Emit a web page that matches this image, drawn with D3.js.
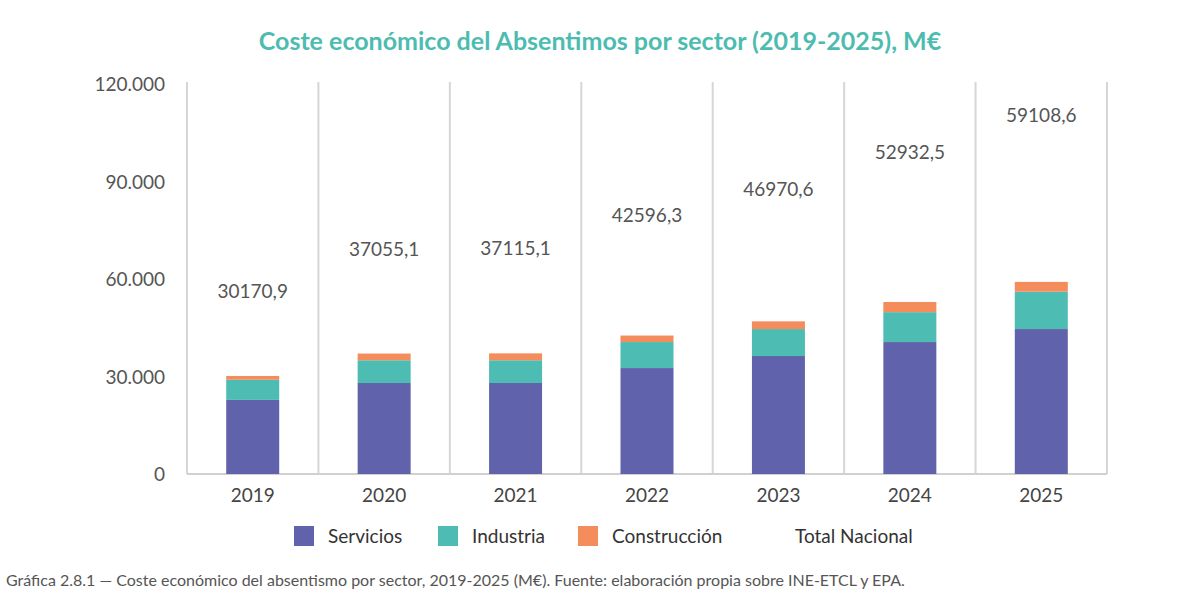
<!DOCTYPE html><html><head><meta charset="utf-8"><script src="https://cdn.jsdelivr.net/npm/d3@7"></script>
<style>body{margin:0;background:#fff;font-family:Lato,"Open Sans",sans-serif}</style></head><body><svg id="c" width="1200" height="610"></svg>
<script>
const years=["2019","2020","2021","2022","2023","2024","2025"];
const servicios=[22.8,28.0,28.0,32.6,36.3,40.6,44.6].map(v=>v*1000);
const industria=[6.2,7.0,7.0,8.0,8.3,9.2,11.5].map(v=>v*1000);
const construccion=[1.17,2.06,2.12,2.0,2.37,3.13,3.01].map(v=>v*1000);
const totales=[30170.9,37055.1,37115.1,42596.3,46970.6,52932.5,59108.6];
const yTicks=[0,30000,60000,90000,120000];
const series=[["Servicios",servicios,"#6063ab"],["Industria",industria,"#4dbcb2"],["Construcción",construccion,"#f48c5c"]];
const svg=d3.select("#c");
const x=d3.scaleBand().domain(years).range([187,1107]).paddingInner(0).paddingOuter(0);
const y=d3.scaleLinear().domain([0,120000]).range([474,84]);
const fmt=v=>v===0?"0":d3.format(",")(v).replace(/,/g,".");
svg.append("text").attr("x",600).attr("y",50).attr("text-anchor","middle").attr("fill","#4dbcb0").attr("font-size",25).attr("font-weight",700).text("Coste económico del Absentimos por sector (2019-2025), M€");
// gridlines vertical
svg.selectAll(".vg").data(years.concat(["end"])).enter().append("line").attr("x1",(d,i)=>187+i*x.bandwidth()).attr("x2",(d,i)=>187+i*x.bandwidth()).attr("y1",82).attr("y2",474).attr("stroke","#d6d6d6").attr("stroke-width",2);
svg.append("line").attr("x1",187).attr("x2",1107).attr("y1",y(0)).attr("y2",y(0)).attr("stroke","#d0d0d0").attr("stroke-width",2);
svg.selectAll(".yt").data(yTicks).enter().append("text").attr("x",165).attr("y",d=>y(d)+7).attr("text-anchor","end").attr("font-size",19).attr("fill","#555").text(fmt);
const bw=53;
years.forEach((yr,i)=>{let acc=0;series.forEach(s=>{const v=s[1][i];svg.append("rect").attr("x",x(yr)+x.bandwidth()/2-bw/2).attr("width",bw).attr("y",y(acc+v)).attr("height",y(acc)-y(acc+v)).attr("fill",s[2]);acc+=v;});});
svg.selectAll(".xl").data(years).enter().append("text").attr("x",d=>x(d)+x.bandwidth()/2).attr("y",502).attr("text-anchor","middle").attr("font-size",19).attr("fill","#444").text(d=>d);
svg.selectAll(".tl").data(totales).enter().append("text").attr("x",(d,i)=>x(years[i])+x.bandwidth()/2).attr("y",d=>y(d*1.87)+7).attr("text-anchor","middle").attr("font-size",19).attr("fill","#555").text(d=>d.toFixed(1).replace(".",","));
const leg=[["Servicios","#6063ab",294],["Industria","#4dbcb2",438],["Construcción","#f48c5c",578],["Total Nacional",null,770]];
leg.forEach(l=>{if(l[1])svg.append("rect").attr("x",l[2]).attr("y",526).attr("width",20).attr("height",20).attr("fill",l[1]);svg.append("text").attr("x",l[1]?l[2]+34:l[2]+25).attr("y",543).attr("font-size",19).attr("fill","#333").text(l[0]);});
svg.append("text").attr("x",6).attr("y",586).attr("font-size",16).attr("fill","#555").text("Gráfica 2.8.1 — Coste económico del absentismo por sector, 2019-2025 (M€). Fuente: elaboración propia sobre INE-ETCL y EPA.");
</script></body></html>
